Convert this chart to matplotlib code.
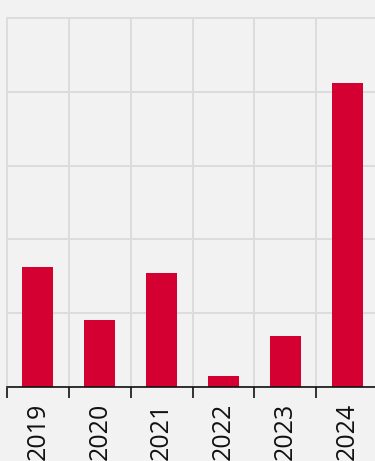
import matplotlib
matplotlib.use("Agg")
import matplotlib.pyplot as plt
import numpy as np

years = ["2019", "2020", "2021", "2022", "2023", "2024"]
values = [1.62, 0.91, 1.54, 0.15, 0.69, 4.12]

bg = "#f2f2f2"
grid_c = "#dcdcdc"
bar_c = "#d40032"

plt.rcParams['font.family'] = ['Open Sans', 'DejaVu Sans']

fig = plt.figure(figsize=(3.75, 4.61), dpi=100, facecolor=bg)
W, H = 375, 461
left, right, top, bottom = 7, 378, 18, 387
ax = fig.add_axes([left / W, 1 - bottom / H, (right - left) / W, (bottom - top) / H])
ax.set_facecolor(bg)

x = np.arange(len(years)) + 0.5
ax.bar(x, values, width=0.5, color=bar_c, zorder=3)

ax.set_xlim(0, len(years))
ax.set_ylim(0, 5)
ax.set_yticks(np.arange(0, 6, 1))
ax.set_yticklabels([])
ax.tick_params(axis='y', length=0)

ax.set_xticks(np.arange(0, len(years) + 1))
ax.set_xticklabels([])
ax.set_xticks(x, minor=True)
ax.set_xticklabels(years, minor=True, rotation=90, fontsize=18, color="#111111")
ax.tick_params(axis='x', which='major', length=8, width=1.2, color="#111111", direction='out')
ax.tick_params(axis='x', which='minor', length=0, pad=11.5)

ax.grid(True, which='major', color=grid_c, linewidth=1.4, zorder=0)
ax.set_axisbelow(True)

for s in ['top', 'left', 'right']:
    ax.spines[s].set_color(grid_c)
    ax.spines[s].set_linewidth(1.4)
ax.spines['bottom'].set_color("#111111")
ax.spines['bottom'].set_linewidth(1.2)
ax.spines['bottom'].set_zorder(4)

fig.savefig("out.png", dpi=100, facecolor=bg)
